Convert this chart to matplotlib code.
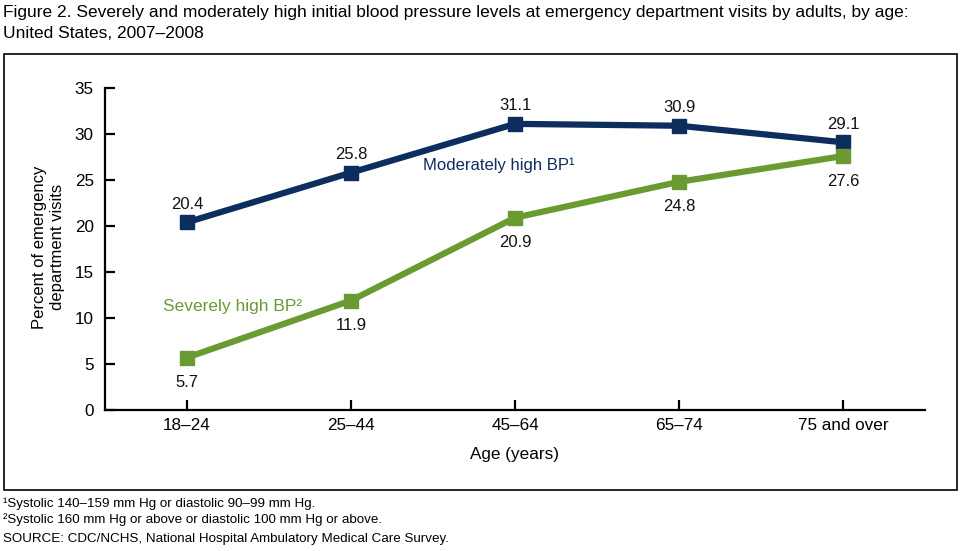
import matplotlib
matplotlib.use("Agg")
import matplotlib.pyplot as plt
from matplotlib.patches import Rectangle

plt.rcParams['font.family'] = ['Liberation Sans', 'DejaVu Sans']

categories = ["18\u201324", "25\u201344", "45\u201364", "65\u201374", "75 and over"]
moderate = [20.4, 25.8, 31.1, 30.9, 29.1]
severe = [5.7, 11.9, 20.9, 24.8, 27.6]
yticks = [0, 5, 10, 15, 20, 25, 30, 35]

navy = "#0c2d5e"
green = "#6b9a33"

W, H = 960, 551
fig = plt.figure(figsize=(9.6, 5.51), dpi=100)
ax = fig.add_axes([105 / W, 1 - 410 / H, (925 - 105) / W, (410 - 88) / H])

x = list(range(len(categories)))
ax.plot(x, moderate, color=navy, lw=4.5, marker='s', ms=10, zorder=3)
ax.plot(x, severe, color=green, lw=4.5, marker='s', ms=10, zorder=3)

for xi, v in zip(x, moderate):
    ax.annotate(f"{v}", (xi, v), xytext=(0, 13), textcoords='offset points',
                ha='center', va='center', fontsize=12, color='#111111')
for xi, v in zip(x, severe):
    ax.annotate(f"{v}", (xi, v), xytext=(0, -18), textcoords='offset points',
                ha='center', va='center', fontsize=12, color='#111111')

ax.text(1.9, 26.6, "Moderately high BP\u00b9", color=navy, fontsize=12, ha='center', va='center')
ax.text(0.28, 11.2, "Severely high BP\u00b2", color=green, fontsize=12.5, ha='center', va='center')

ax.set_xlim(-0.5, 4.5)
ax.set_ylim(0, 35)
ax.set_xticks(x)
ax.set_xticklabels(categories, fontsize=12.3)
ax.set_yticks(yticks)
ax.set_yticklabels([str(t) for t in yticks], fontsize=12.3)
ax.tick_params(axis='both', direction='in', length=7, width=1.6, pad=6)
ax.tick_params(axis='y', pad=8)
for s in ['top', 'right']:
    ax.spines[s].set_visible(False)
for s in ['left', 'bottom']:
    ax.spines[s].set_linewidth(1.6)
ax.set_xlabel("Age (years)", fontsize=12.3, labelpad=10)

fig.text(48.5 / W, 1 - 247 / H, "Percent of emergency\ndepartment visits", rotation=90,
         fontsize=12, ha='center', va='center', linespacing=1.2)

fig.add_artist(Rectangle((4 / W, 1 - 490 / H), (957 - 4) / W, (490 - 54) / H,
                         transform=fig.transFigure, fill=False, ec='black', lw=1.2))

fig.text(3 / W, 1 - 13 / H, "Figure 2. Severely and moderately high initial blood pressure levels at emergency department visits by adults, by age:",
         fontsize=12.5, ha='left', va='center')
fig.text(3 / W, 1 - 33 / H, "United States, 2007\u20132008", fontsize=12.5, ha='left', va='center')

fig.text(3 / W, 1 - 504 / H, "\u00b9Systolic 140\u2013159 mm Hg or diastolic 90\u201399 mm Hg.", fontsize=9.6, ha='left', va='center')
fig.text(3 / W, 1 - 520 / H, "\u00b2Systolic 160 mm Hg or above or diastolic 100 mm Hg or above.", fontsize=9.6, ha='left', va='center')
fig.text(3 / W, 1 - 539 / H, "SOURCE: CDC/NCHS, National Hospital Ambulatory Medical Care Survey.", fontsize=9.6, ha='left', va='center')

fig.savefig("out.png", dpi=100)
